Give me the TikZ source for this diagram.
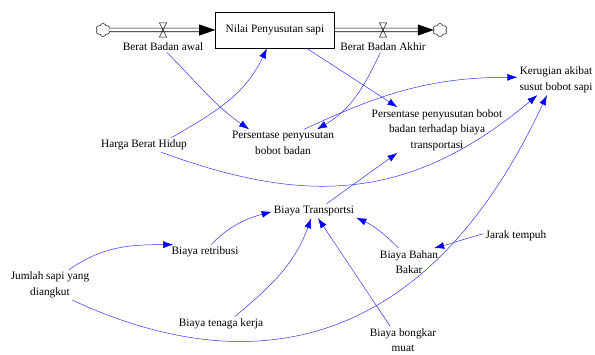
\documentclass[tikz,border=0pt]{standalone}
\usepackage{fontspec}
\setmainfont{Liberation Serif}
\usepackage{tikz}
\usetikzlibrary{shapes,shapes.symbols,arrows,arrows.meta,positioning,calc}

\definecolor{linkblue}{RGB}{50,50,255}

\tikzset{
  var/.style={align=center, inner sep=2pt, font=\fontsize{11.3}{15.5}\selectfont},
  stock/.style={draw, rectangle, fill=white, line width=0.6pt, minimum width=119pt, minimum height=36pt, font=\fontsize{11.3}{15.5}\selectfont},
  link/.style={draw=linkblue, line width=0.5pt, -{Latex[length=10pt,width=7pt,color=blue]}},
  pipe/.style={double, double distance=3pt, line width=0.6pt, -{Triangle[length=16pt,width=11pt]}},
  sink/.style={draw, cloud, cloud puffs=6, cloud puff arc=150, aspect=1.1, minimum width=14pt, minimum height=13pt, inner sep=0pt, line width=0.5pt},
  valve/.style={minimum width=7pt, minimum height=14pt, inner sep=0pt}
}

\begin{document}
\begin{tikzpicture}[x=1pt, y=1pt, node distance=3pt]
\useasboundingbox (0,0) rectangle (595,354);
% stock with inflow and outflow
\node[stock] (box) at (275,324) {Nilai Penyusutan sapi};
\node[sink] (srcL) at (103,324) {};
\node[sink] (snkR) at (440,324) {};
\node[valve] (v1) at (163,324) {};
\node[valve] (v2) at (383,324) {};
\draw[pipe] (srcL) -- (box);
\draw[pipe] (box) -- (snkR);
\draw[line width=0.5pt] (v1.north west) -- (v1.north east) -- (v1.south west) -- (v1.south east) -- cycle;
\draw[line width=0.5pt] (v2.north west) -- (v2.north east) -- (v2.south west) -- (v2.south east) -- cycle;
\node[var, below=of v1] (awal) {Berat Badan awal};
\node[var, below=of v2] (akhir) {Berat Badan Akhir};

% auxiliaries
\node[var] (harga) at (144,209) {Harga Berat Hidup};
\node[var] (ppbb) at (283,211) {Persentase penyusutan\\bobot badan};
\node[var] (ppbt) at (437,224) {Persentase penyusutan bobot\\badan terhadap biaya\\transportasi};
\node[var] (rugi) at (556,274) {Kerugian akibat\\susut bobot sapi};
\node[var] (trans) at (314,143) {Biaya Transportsi};
\node[var] (retri) at (205,102) {Biaya retribusi};
\node[var] (jumlah) at (50,69) {Jumlah sapi yang\\diangkut};
\node[var] (tenaga) at (221,30) {Biaya tenaga kerja};
\node[var] (bbm) at (409,92) {Biaya Bahan\\Bakar};
\node[var] (jarak) at (516,118) {Jarak tempuh};
\node[var] (bongkar) at (403,14) {Biaya bongkar\\muat};

% links
\draw[link] (awal.-57) to[out=-45,in=145] (ppbb.158);
\draw[link] (harga.15) to[out=30,in=-115] (box.246);
\draw[link] (harga.-23) .. controls +(-20:150) and +(220:170) .. (rugi.219);
\draw[link] (box.-30) -- (ppbt.150);
\draw[link] (akhir.246) to[out=245,in=30] (ppbb.22);
\draw[link] (ppbb.33) to[out=25,in=180] (rugi.176);
\draw[link] (trans.30) -- (ppbt.210);
\draw[link] (retri.51) to[out=45,in=195] (trans.181);
\draw[link] (jumlah.39) to[out=35,in=180] (retri.167);
\draw[link] (tenaga.28) to[out=40,in=-110] (trans.249);
\draw[link] (jumlah.-34) .. controls +(-25:180) and +(245:300) .. (rugi.239);
\draw[link] (bbm.127) to[out=135,in=-25] (trans.-9);
\draw[link] (bongkar.133) -- (trans.-61);
\draw[link] (jarak.176) to[out=195,in=15] (bbm.29);
\end{tikzpicture}
\end{document}
